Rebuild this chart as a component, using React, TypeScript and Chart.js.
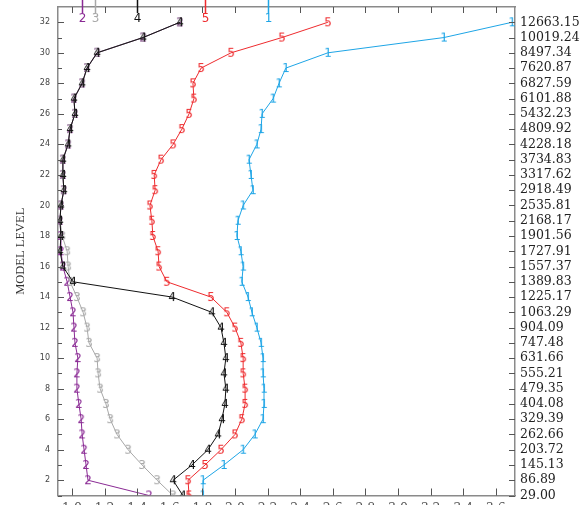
import React, { useEffect, useRef } from "react";
import { Chart, registerables } from "chart.js";
Chart.register(...registerables);

// Model levels (y) 1..32
const levels = [1, 2, 3, 4, 5, 6, 7, 8, 9, 10, 11, 12, 13, 14, 15, 16, 17, 18, 19, 20, 21, 22, 23, 24, 25, 26, 27, 28, 29, 30, 31, 32];
// Right-hand height labels (one per level)
const heightLabels = ["29.00", "86.89", "145.13", "203.72", "262.66", "329.39", "404.08", "479.35", "555.21", "631.66", "747.48", "904.09", "1063.29", "1225.17", "1389.83", "1557.37", "1727.91", "1901.56", "2168.17", "2535.81", "2918.49", "3317.62", "3734.83", "4228.18", "4809.92", "5432.23", "6101.88", "6827.59", "7620.87", "8497.34", "10019.24", "12663.15"];
// Left tick labels
const leftTicks = [2, 4, 6, 8, 10, 12, 14, 16, 18, 20, 22, 24, 26, 28, 30, 32];
// Bottom axis tick values and (mostly cropped) labels
const xTickValues = [0, 1, 2, 3, 4, 5, 6, 7, 8, 9, 10, 11, 12, 13];
const xTickLabels = ["1.0", "1.2", "1.4", "1.6", "1.8", "2.0", "2.2", "2.4", "2.6", "2.8", "3.0", "3.2", "3.4", "3.6"];

// Series values per level (x units)
const series1 = [4.02, 4.02, 4.66, 5.25, 5.61, 5.86, 5.89, 5.89, 5.86, 5.86, 5.80, 5.67, 5.52, 5.40, 5.21, 5.25, 5.18, 5.06, 5.09, 5.25, 5.55, 5.49, 5.43, 5.67, 5.80, 5.83, 6.17, 6.35, 6.56, 7.85, 11.41, 13.50];
const series5 = [3.59, 3.56, 4.08, 4.57, 5.00, 5.21, 5.31, 5.31, 5.25, 5.25, 5.18, 5.00, 4.75, 4.26, 2.91, 2.67, 2.64, 2.48, 2.45, 2.39, 2.55, 2.52, 2.73, 3.10, 3.37, 3.59, 3.74, 3.71, 3.96, 4.88, 6.44, 7.85];
const series4 = [3.40, 3.10, 3.68, 4.17, 4.48, 4.60, 4.69, 4.72, 4.66, 4.72, 4.66, 4.57, 4.29, 3.07, 0.03, -0.28, -0.37, -0.34, -0.37, -0.34, -0.25, -0.28, -0.28, -0.12, -0.06, 0.09, 0.06, 0.31, 0.46, 0.77, 2.18, 3.31];
const series3 = [3.10, 2.61, 2.15, 1.72, 1.38, 1.17, 1.04, 0.86, 0.80, 0.77, 0.52, 0.46, 0.34, 0.15, -0.06, -0.12, -0.15, -0.30, -0.37, -0.34, -0.25, -0.28, -0.28, -0.12, -0.06, 0.09, 0.06, 0.31, 0.46, 0.77, 2.18, 3.31];
const series2 = [2.36, 0.49, 0.43, 0.37, 0.31, 0.28, 0.21, 0.15, 0.15, 0.18, 0.09, 0.06, 0.03, -0.06, -0.15, -0.28, -0.34, -0.34, -0.37, -0.34, -0.25, -0.28, -0.28, -0.12, -0.06, 0.09, 0.06, 0.31, 0.46, 0.77, 2.18, 3.31];

// Top-axis coloured markers
const topMarkValues = [0.31, 0.71, 1.99, 4.08, 6.01];
const topMarkLabels = ["2", "3", "4", "5", "1"];

const C1 = "#1ea5e6";
const C2 = "#8a2a94";
const C3 = "#a8a8a8";
const C4 = "#111111";
const C5 = "#ee2b2e";
const topMarkColors = [C2, C3, C4, C5, C1];

function glyph(ch: string, color: string) {
  const c = document.createElement("canvas");
  c.width = 14;
  c.height = 14;
  const g = c.getContext("2d")!;
  g.font = "12px 'DejaVu Sans'";
  g.fillStyle = color;
  g.textAlign = "center";
  g.textBaseline = "middle";
  g.fillText(ch, 7, 7.5);
  return c;
}

const axisDeco = {
  id: "axisDeco",
  afterDraw(chart: any) {
    const ctx = chart.ctx;
    const { left, right, top, bottom } = chart.chartArea;
    const xs = chart.scales.x;
    const ys = chart.scales.y;
    ctx.save();
    ctx.strokeStyle = "#555";
    ctx.lineWidth = 1;
    ctx.beginPath();
    xTickValues.forEach((v) => {
      const px = Math.round(xs.getPixelForValue(v)) + 0.5;
      ctx.moveTo(px, bottom);
      ctx.lineTo(px, bottom - 7);
      ctx.moveTo(px, top);
      ctx.lineTo(px, top + 6);
    });
    levels.forEach((l) => {
      const py = Math.round(ys.getPixelForValue(l)) + 0.5;
      ctx.moveTo(left, py);
      ctx.lineTo(left + (l % 2 === 0 ? 6 : 4), py);
      ctx.moveTo(right, py);
      ctx.lineTo(right - 6, py);
    });
    ctx.stroke();
    topMarkValues.forEach((v, i) => {
      const px = Math.round(xs.getPixelForValue(v)) + 0.5;
      ctx.strokeStyle = topMarkColors[i];
      ctx.lineWidth = 1.5;
      ctx.beginPath();
      ctx.moveTo(px, 0);
      ctx.lineTo(px, top + 6);
      ctx.stroke();
      ctx.fillStyle = topMarkColors[i];
      ctx.font = "12px 'DejaVu Sans'";
      ctx.textAlign = "center";
      ctx.textBaseline = "middle";
      ctx.fillText(topMarkLabels[i], px, top + 12);
    });
    ctx.restore();
  },
};

function ds(label: string, vals: number[], color: string) {
  const img = glyph(label, color);
  return {
    label,
    data: vals.map((v, i) => ({ x: v, y: levels[i] })),
    borderColor: color,
    backgroundColor: color,
    borderWidth: 1,
    pointStyle: img,
    pointRadius: 6,
    showLine: true,
    tension: 0,
  };
}

function noPad(s: any) {
  s.paddingTop = 0;
  s.paddingBottom = 0;
  s.paddingLeft = 0;
  s.paddingRight = 0;
}

export default function App() {
  const ref = useRef<HTMLCanvasElement>(null);
  useEffect(() => {
    const X_MIN = -0.43;
    const X_MAX = 13.59;
    const chart = new Chart(ref.current!, {
      type: "scatter",
      data: {
        datasets: [
          ds("4", series4, C4),
          ds("5", series5, C5),
          ds("1", series1, C1),
          ds("3", series3, C3),
          ds("2", series2, C2),
        ],
      },
      options: {
        animation: false,
        responsive: false,
        maintainAspectRatio: false,
        layout: { padding: 0 },
        plugins: { legend: { display: false }, tooltip: { enabled: false } },
        scales: {
          x: {
            type: "linear",
            position: "bottom",
            min: X_MIN,
            max: X_MAX,
            afterBuildTicks: (s: any) => {
              s.ticks = xTickValues.map((v) => ({ value: v }));
            },
            afterFit: (s: any) => {
              s.height = 9.5;
              noPad(s);
            },
            grid: { display: false, drawTicks: false },
            border: { color: "#8a8a8a", width: 1.5 },
            ticks: {
              padding: 6,
              color: "#555",
              font: { family: "DejaVu Serif", size: 12.5 },
              maxRotation: 0,
              autoSkip: false,
              callback: (_v: any, i: number) => xTickLabels[i],
            },
          },
          xTop: {
            type: "linear",
            position: "top",
            min: X_MIN,
            max: X_MAX,
            afterFit: (s: any) => {
              s.height = 6.7;
              noPad(s);
            },
            grid: { display: false, drawTicks: false },
            border: { color: "#8a8a8a", width: 1.5 },
            ticks: { display: false },
          },
          y: {
            type: "linear",
            position: "left",
            min: 1,
            max: 33,
            afterBuildTicks: (s: any) => {
              s.ticks = leftTicks.map((v) => ({ value: v }));
            },
            afterFit: (s: any) => {
              s.width = 58;
              noPad(s);
            },
            grid: { display: false, drawTicks: false },
            border: { color: "#8a8a8a", width: 1.5 },
            title: {
              display: true,
              text: "MODEL LEVEL",
              color: "#333",
              font: { family: "Liberation Serif", size: 12.5 },
              padding: { top: 13.5, bottom: 0 },
            },
            ticks: {
              padding: 8,
              color: "#444",
              font: { family: "DejaVu Sans", size: 8 },
              autoSkip: false,
              callback: (v: any) => String(v),
            },
          },
          yRight: {
            type: "linear",
            position: "right",
            min: 1,
            max: 33,
            afterBuildTicks: (s: any) => {
              s.ticks = levels.map((v) => ({ value: v }));
            },
            afterFit: (s: any) => {
              s.width = 68;
              noPad(s);
            },
            grid: { display: false, drawTicks: false },
            border: { color: "#8a8a8a", width: 1.5 },
            ticks: {
              padding: 5,
              color: "#222",
              font: { family: "DejaVu Serif", size: 12.5 },
              autoSkip: false,
              callback: (_v: any, i: number) => heightLabels[i],
            },
          },
        },
      },
      plugins: [axisDeco],
    } as any);
    return () => chart.destroy();
  }, []);
  return (
    <div style={{ position: "fixed", left: 0, top: 0, width: 583, height: 505, background: "#fff" }}>
      <canvas ref={ref} width={583} height={505} style={{ display: "block", width: 583, height: 505 }} />
    </div>
  );
}
